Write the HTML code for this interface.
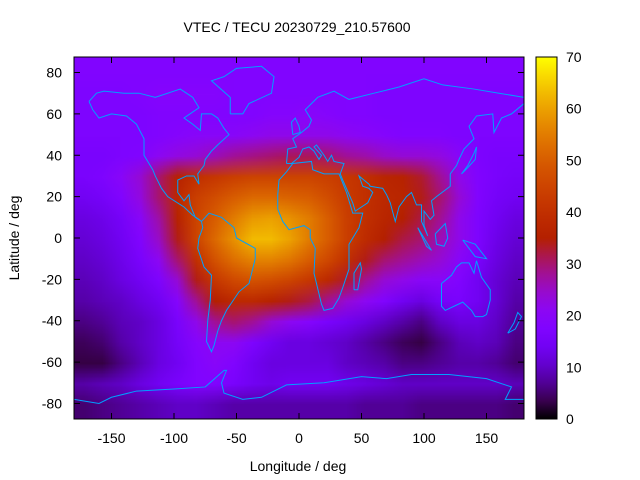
<!DOCTYPE html>
<html><head><meta charset="utf-8"><style>
body{margin:0;background:#fff;}
#wrap{position:relative;width:640px;height:480px;}
#clip{position:absolute;left:74px;top:57px;width:450px;height:362px;overflow:hidden;}
#hm{position:absolute;image-rendering:auto;}
svg{position:absolute;left:0;top:0;display:block;font-family:"Liberation Sans",sans-serif;}
</style></head><body>
<div id="wrap">
<div id="clip"><canvas id="hm"></canvas></div>
<svg id="c" width="640" height="480" viewBox="0 0 640 480">
<defs>
<clipPath id="cp"><rect x="74" y="57" width="450" height="362"/></clipPath>
<linearGradient id="cbg" x1="0" y1="1" x2="0" y2="0"></linearGradient>
</defs>
<text x="297" y="32" text-anchor="middle" font-size="14">VTEC / TECU 20230729_210.57600</text>
<g id="coast" clip-path="url(#cp)" fill="none" stroke="#00a0ff" stroke-width="1"></g>
<rect x="74" y="57" width="450" height="362" fill="none" stroke="#000"/>
<g id="axes" font-size="14"></g>
<rect id="cbar" x="536" y="57" width="21" height="362" fill="url(#cbg)" stroke="#000"/>
<text x="298" y="471" text-anchor="middle" font-size="14">Longitude / deg</text>
<text transform="translate(19,238) rotate(-90)" text-anchor="middle" font-size="14">Latitude / deg</text>
</svg>
</div>
<script>
const lons=[-172.5,-157.5,-142.5,-127.5,-112.5,-97.5,-82.5,-67.5,-52.5,-37.5,-22.5,-7.5,7.5,22.5,37.5,52.5,67.5,82.5,97.5,112.5,127.5,142.5,157.5,172.5];
const lats=[80,70,60,50,40,30,20,10,0,-10,-20,-30,-40,-50,-60,-70,-80];
const vtec=[
[18,18,18,18,18,18,18,18,18,18,18,18,18,18,18,18,18,18,18,18,18,18,18,18],
[17,17,17,18,19,19,19,19,18,18,18,18,18,18,18,18,17,17,17,17,17,17,17,17],
[17,17,17,17,18,18,18,18,18,18,19,19,20,19,18,18,17,17,17,17,17,17,17,17],
[17,17,17,17,18,19,20,20,20,21,22,22,22,22,21,20,19,18,18,18,17,17,17,17],
[16,16,17,18,21,23,24,26,28,29,30,31,31,30,28,27,25,24,24,23,20,17,16,16],
[16,17,20,24,30,36,40,42,44,45,45,45,45,44,42,40,37,36,33,28,22,18,16,15],
[14,15,18,23,30,38,44,47,50,52,52,51,50,47,43,40,38,37,34,30,24,18,15,14],
[12,13,15,20,27,36,45,50,55,59,60,58,55,50,44,40,37,35,32,28,22,17,14,12],
[11,12,14,18,25,34,45,52,58,63,63,60,55,50,44,39,35,32,30,26,22,17,13,11],
[10,11,13,16,21,30,40,48,53,56,56,54,50,46,40,34,30,28,26,24,20,16,12,10],
[9,10,12,14,17,24,34,42,46,48,47,45,42,38,33,28,24,22,20,20,18,14,11,9],
[8,9,10,12,14,19,28,35,38,38,36,34,32,28,24,21,18,14,12,15,16,14,11,8],
[6,7,9,10,12,16,22,28,30,28,24,21,19,16,14,12,10,8,6,10,12,12,10,7],
[4,5,8,10,12,15,19,21,21,17,14,12,12,11,10,8,6,4,3,6,9,10,9,6],
[3,3,6,9,12,14,18,20,18,14,12,12,12,12,10,9,8,6,6,7,8,8,7,5],
[8,9,10,12,14,16,18,18,16,14,13,14,14,14,13,12,11,10,10,10,10,10,10,9],
[5,6,7,8,9,10,10,9,8,8,8,8,8,8,8,7,7,7,6,6,6,6,6,5]];
const xTicks=[-150,-100,-50,0,50,100,150];
const yTicks=[-80,-60,-40,-20,0,20,40,60,80];
const cTicks=[0,10,20,30,40,50,60,70];
const coasts=[
[[-168,66],[-162,70],[-156,71],[-140,70],[-128,70],[-115,68],[-95,72],[-85,68],[-80,63],[-92,58],[-85,55],[-79,52],[-78,60],[-70,60],[-65,58],[-60,53],[-56,50],[-65,45],[-70,42],[-75,38],[-76,35],[-81,31],[-80,26],[-82,28],[-84,30],[-90,30],[-97,28],[-97,22],[-92,18],[-88,21],[-87,16],[-83,10],[-78,8],[-80,9],[-85,11],[-92,15],[-105,20],[-110,24],[-115,30],[-117,33],[-124,40],[-124,48],[-130,55],[-138,59],[-150,60],[-160,58],[-165,62],[-168,66]],
[[-55,60],[-45,60],[-40,65],[-22,70],[-20,78],[-30,83],[-50,82],[-60,78],[-70,76],[-55,68],[-55,60]],
[[-78,8],[-72,12],[-62,10],[-52,5],[-50,0],[-35,-5],[-35,-10],[-40,-22],[-48,-26],[-58,-35],[-62,-40],[-65,-45],[-68,-52],[-70,-55],[-74,-50],[-73,-40],[-71,-30],[-70,-18],[-76,-14],[-81,-5],[-80,0],[-77,5],[-78,8]],
[[-17,21],[-16,28],[-10,32],[-5,36],[10,37],[11,33],[20,31],[32,31],[34,28],[38,22],[43,12],[51,12],[48,5],[40,-3],[40,-15],[35,-24],[32,-29],[27,-34],[20,-35],[18,-32],[12,-17],[13,-5],[9,0],[9,4],[4,6],[-8,4],[-13,8],[-17,14],[-17,21]],
[[-10,36],[-9,43],[-2,44],[-5,48],[2,51],[8,54],[10,57],[5,62],[15,68],[28,71],[40,67],[60,70],[80,73],[100,77],[115,74],[140,72],[160,70],[180,68]],
[[180,65],[170,60],[162,58],[156,51],[155,60],[142,59],[136,54],[140,48],[132,43],[128,38],[126,35],[121,31],[121,25],[110,20],[106,18],[108,11],[105,9],[100,13],[100,6],[103,1],[98,8],[98,16],[94,16],[90,22],[86,20],[80,15],[77,8],[73,17],[70,21],[67,24],[57,25],[56,26],[52,28],[48,30],[51,25],[56,24],[59,22],[55,17],[45,13],[43,17],[35,28],[33,31],[36,36],[28,37],[26,40],[23,37],[20,40],[14,45],[12,44],[18,40],[16,38],[12,42],[8,44],[3,43],[0,39],[-6,36],[-10,36]],
[[114,-22],[114,-33],[117,-35],[124,-33],[131,-31],[138,-35],[141,-38],[147,-38],[150,-37],[153,-30],[153,-25],[146,-19],[142,-11],[140,-17],[136,-12],[130,-12],[126,-14],[122,-18],[114,-22]],
[[-180,-78],[-160,-80],[-150,-77],[-130,-74],[-100,-73],[-75,-72],[-60,-64],[-58,-64],[-62,-70],[-60,-75],[-45,-78],[-30,-77],[-10,-71],[20,-70],[50,-67],[70,-68],[90,-66],[120,-66],[150,-68],[170,-72],[165,-78],[180,-78]],
[[-5,50],[1,51],[0,54],[-3,58],[-6,56],[-5,50]],
[[130,31],[135,34],[141,38],[142,44],[140,41],[135,35],[130,31]],
[[44,-25],[47,-25],[50,-15],[49,-12],[44,-17],[44,-25]],
[[167,-46],[172,-41],[175,-36],[178,-38],[173,-44],[167,-46]],
[[109,2],[117,7],[119,0],[116,-4],[110,-3],[109,2]],
[[95,5],[106,-6],[102,-4],[95,5]],
[[131,-1],[141,-3],[150,-10],[141,-9],[131,-1]]];
const NS="http://www.w3.org/2000/svg";
const X0=74,X1=524,Y0=57,Y1=419;
const xs=v=>X0+(v+180)/360*(X1-X0);
const ys=v=>Y0+(87.5-v)/175*(Y1-Y0);
const cs=v=>Y1-v/70*(Y1-Y0);
function rgb(t){t=Math.max(0,Math.min(1,t));
 return [Math.round(Math.sqrt(t)*255),Math.round(t*t*t*255),Math.round(Math.max(0,Math.sin(2*Math.PI*t))*255)];}
function col(t){const c=rgb(t);return `rgb(${c[0]},${c[1]},${c[2]})`;}
function mk(tag,at,parent){const e=document.createElementNS(NS,tag);for(const k in at)e.setAttribute(k,at[k]);parent.appendChild(e);return e;}
// heatmap canvas: one pixel per cell, with duplicated border, upscaled smoothly
const nx=lons.length,ny=lats.length;
const cv=document.getElementById('hm');
cv.width=nx+2;cv.height=ny+2;
const ctx=cv.getContext('2d');
const img=ctx.createImageData(nx+2,ny+2);
for(let i=0;i<ny+2;i++)for(let j=0;j<nx+2;j++){
 const ii=Math.min(ny-1,Math.max(0,i-1)),jj=Math.min(nx-1,Math.max(0,j-1));
 const c=rgb(vtec[ii][jj]/70),k=(i*(nx+2)+j)*4;
 img.data[k]=c[0];img.data[k+1]=c[1];img.data[k+2]=c[2];img.data[k+3]=255;}
ctx.putImageData(img,0,0);
const cw=xs(lons[1])-xs(lons[0]),ch=ys(lats[1])-ys(lats[0]);
cv.style.left=(xs(lons[0])-1.5*cw-X0)+'px';
cv.style.top=(ys(lats[0])-1.5*ch-Y0)+'px';
cv.style.width=((nx+2)*cw)+'px';
cv.style.height=((ny+2)*ch)+'px';
const cg=document.getElementById('coast');
coasts.forEach(c=>{const p=mk('polyline',{points:c.map(q=>xs(q[0])+','+ys(q[1])).join(' ')},cg);
 
 });
const ax=document.getElementById('axes');
xTicks.forEach(v=>{const x=xs(v);
 mk('line',{x1:x,x2:x,y1:Y1,y2:Y1-6,stroke:'#000'},ax);mk('line',{x1:x,x2:x,y1:Y0,y2:Y0+6,stroke:'#000'},ax);
 const t=mk('text',{x:x,y:443,'text-anchor':'middle'},ax);t.textContent=v;
 
 });
yTicks.forEach(v=>{const y=ys(v);
 mk('line',{x1:X0,x2:X0+6,y1:y,y2:y,stroke:'#000'},ax);mk('line',{x1:X1,x2:X1-6,y1:y,y2:y,stroke:'#000'},ax);
 const t=mk('text',{x:62,y:y+5,'text-anchor':'end'},ax);t.textContent=v;
 
 });
const gr=document.querySelector('#cbg');
for(let k=0;k<=20;k++)mk('stop',{offset:k/20,'stop-color':col(k/20)},gr);
cTicks.forEach(v=>{const y=cs(v);
 mk('line',{x1:536,x2:541,y1:y,y2:y,stroke:'#000'},ax);mk('line',{x1:557,x2:552,y1:y,y2:y,stroke:'#000'},ax);
 const t=mk('text',{x:566,y:y+5},ax);t.textContent=v;
 
 });
</script>
</body></html>
